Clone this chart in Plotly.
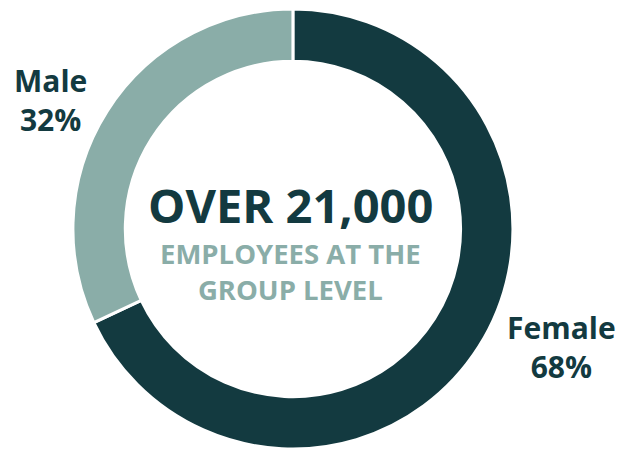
import plotly.graph_objects as go

# Workforce split by gender
genders = ["Female", "Male"]
shares = [68, 32]
colors = ["#133a40", "#8aada8"]

headline = "OVER 21,000"
subline = ["EMPLOYEES AT THE", "GROUP LEVEL"]

W, H = 618, 449
DARK, LIGHT = colors[0], colors[1]
FONT = "Open Sans"

fig = go.Figure(
    go.Pie(
        labels=genders,
        values=shares,
        hole=0.762,
        sort=False,
        direction="clockwise",
        rotation=0,
        marker=dict(colors=colors, line=dict(color="white", width=3)),
        textinfo="none",
        hoverinfo="label+percent",
        showlegend=False,
        domain=dict(x=[0.118, 0.830], y=[0.0, 0.98]),
    )
)


def px(x, y):
    return x / W, 1 - y / H


annotations = []

# Center message: headline plus a two-line caption
xx, yy = px(290, 205)
annotations.append(dict(
    x=xx, y=yy, xref="paper", yref="paper", text=f"<b>{headline}</b>",
    showarrow=False, xanchor="center", yanchor="middle",
    font=dict(family=FONT, size=47, color=DARK),
))
xx, yy = px(290, 271)
annotations.append(dict(
    x=xx, y=yy, xref="paper", yref="paper",
    text="<br>".join(f"<b>{s}</b>" for s in subline),
    showarrow=False, xanchor="center", yanchor="middle", align="center",
    font=dict(family=FONT, size=27.5, color=LIGHT),
))

# Outside slice labels
label_pos = {"Male": (50, 100), "Female": (561, 347)}
for g, v in zip(genders, shares):
    cx, cy = label_pos[g]
    xx, yy = px(cx, cy)
    annotations.append(dict(
        x=xx, y=yy, xref="paper", yref="paper",
        text=f"<b>{g}</b><br><b>{v}%</b>",
        showarrow=False, xanchor="center", yanchor="middle", align="center",
        font=dict(family=FONT, size=30, color=DARK),
    ))

fig.update_layout(
    width=W, height=H,
    margin=dict(l=0, r=0, t=0, b=0),
    paper_bgcolor="white",
    plot_bgcolor="white",
    annotations=annotations,
)

fig.write_html("out.html")
